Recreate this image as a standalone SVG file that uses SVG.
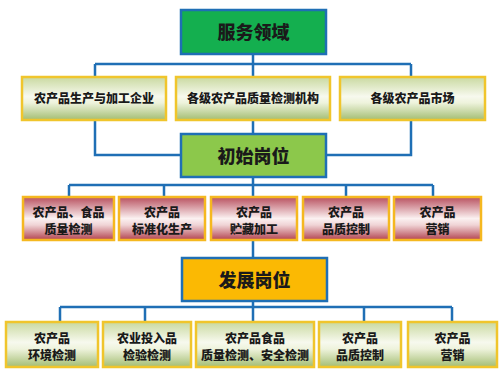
<svg xmlns="http://www.w3.org/2000/svg" width="502" height="375" viewBox="0 0 502 375">
<defs>
<linearGradient id="gG" x1="0" y1="0" x2="0" y2="1">
<stop offset="0" stop-color="#c9d9a0"/>
<stop offset="0.45" stop-color="#f7f9ee"/>
<stop offset="0.6" stop-color="#eef3dc"/>
<stop offset="1" stop-color="#a3bd72"/>
</linearGradient>
<linearGradient id="gR" x1="0" y1="0" x2="0" y2="1">
<stop offset="0" stop-color="#b8505f"/>
<stop offset="0.5" stop-color="#fbf1f1"/>
<stop offset="0.65" stop-color="#f0d4d6"/>
<stop offset="1" stop-color="#b3434f"/>
</linearGradient>
</defs>
<style>
.main{stroke:#1f6fb5;stroke-width:2.5}
.gb{fill:url(#gG);stroke:#f0c52c;stroke-width:2.5}
.rb{fill:url(#gR);stroke:#f5b820;stroke-width:2.5}
.t{font-family:"Noto Sans CJK SC","Noto Sans CJK TC",sans-serif;font-weight:900;fill:#1a1a1a;text-anchor:middle}
.big{font-size:18px}
.sm{font-size:12px}
.c{fill:none;stroke:#1f6fb5;stroke-width:2.5}
</style>
<rect width="502" height="375" fill="#ffffff"/>
<g id="connectors">
<path class="c" d="M253 54V64M95 64H411M95 64V77M253 64V77M411 64V77"/>
<path class="c" d="M95 120V155H181M411 120V155H326M253 120V134"/>
<path class="c" d="M253 177V185M69 185H433M69 185V197M164 185V197M253 185V197M346 185V197M433 185V197"/>
<path class="c" d="M253 240V258"/>
<path class="c" d="M253 301V307M60 307H452M60 307V322M145 307V322M253 307V322M364 307V322M452 307V322"/>
</g>
<g id="n-fwly"><rect class="main" x="181" y="10" width="145" height="44" fill="#14af4f"/><text class="t big" x="253.5" y="38.5">服务领域</text></g>
<g id="n-qy"><rect class="gb" x="22" y="77" width="144" height="43"/><text class="t sm" x="94" y="103">农产品生产与加工企业</text></g>
<g id="n-jg"><rect class="gb" x="176" y="77" width="154" height="43"/><text class="t sm" x="253" y="103">各级农产品质量检测机构</text></g>
<g id="n-sc"><rect class="gb" x="340" y="77" width="145" height="43"/><text class="t sm" x="412.5" y="103">各级农产品市场</text></g>
<g id="n-cs"><rect class="main" x="181" y="134" width="145" height="43" fill="#8cc84b"/><text class="t big" x="253.5" y="162.5">初始岗位</text></g>
<g id="n-r1"><rect class="rb" x="23" y="197" width="91" height="43"/><text class="t sm" x="68.5" y="217">农产品、食品</text><text class="t sm" x="68.5" y="234">质量检测</text></g>
<g id="n-r2"><rect class="rb" x="119" y="197" width="86" height="43"/><text class="t sm" x="162" y="217">农产品</text><text class="t sm" x="162" y="234">标准化生产</text></g>
<g id="n-r3"><rect class="rb" x="211" y="197" width="86" height="43"/><text class="t sm" x="254" y="217">农产品</text><text class="t sm" x="254" y="234">贮藏加工</text></g>
<g id="n-r4"><rect class="rb" x="303" y="197" width="86" height="43"/><text class="t sm" x="346" y="217">农产品</text><text class="t sm" x="346" y="234">品质控制</text></g>
<g id="n-r5"><rect class="rb" x="394" y="197" width="87" height="43"/><text class="t sm" x="437.5" y="217">农产品</text><text class="t sm" x="437.5" y="234">营销</text></g>
<g id="n-fz"><rect class="main" x="182" y="258" width="145" height="43" fill="#fbb903"/><text class="t big" x="254.5" y="287">发展岗位</text></g>
<g id="n-b1"><rect class="gb" x="6" y="322" width="92" height="45"/><text class="t sm" x="52" y="343">农产品</text><text class="t sm" x="52" y="360">环境检测</text></g>
<g id="n-b2"><rect class="gb" x="103" y="322" width="88" height="45"/><text class="t sm" x="147" y="343">农业投入品</text><text class="t sm" x="147" y="360">检验检测</text></g>
<g id="n-b3"><rect class="gb" x="196" y="322" width="118" height="45"/><text class="t sm" x="255" y="343">农产品食品</text><text class="t sm" x="255" y="360">质量检测、安全检测</text></g>
<g id="n-b4"><rect class="gb" x="319" y="322" width="82" height="45"/><text class="t sm" x="360" y="343">农产品</text><text class="t sm" x="360" y="360">品质控制</text></g>
<g id="n-b5"><rect class="gb" x="408" y="322" width="89" height="45"/><text class="t sm" x="452.5" y="343">农产品</text><text class="t sm" x="452.5" y="360">营销</text></g>
</svg>
